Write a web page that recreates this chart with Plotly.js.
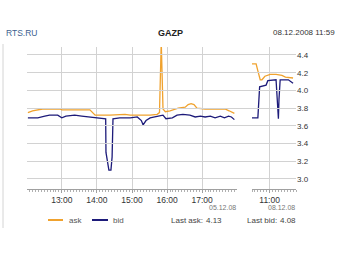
<!DOCTYPE html>
<html><head><meta charset="utf-8">
<script src="https://cdn.plot.ly/plotly-3.0.1.min.js"></script>
<style>html,body{margin:0;padding:0;background:#fff}#c{width:340px;height:255px}</style>
</head><body><div id="c"></div>
<script>
// Session 1: 05.12.08
var day1 = '2008-12-05';
var askTimes1 = ['12:02','12:10','12:27','12:57','13:00','13:22','13:48','13:57','14:05','14:22','14:48','14:57','15:14','15:31','15:43','15:47','15:50','15:53','15:57','16:05','16:19','16:31','16:36','16:41','16:46','16:51','17:05','17:22','17:39','17:46','17:55'];
var askValues1 = [3.75,3.77,3.79,3.79,3.78,3.78,3.78,3.72,3.72,3.72,3.73,3.72,3.72,3.72,3.73,3.75,4.55,3.79,3.76,3.77,3.80,3.81,3.84,3.85,3.84,3.80,3.79,3.79,3.79,3.77,3.74];
var bidTimes1 = ['12:02','12:19','12:31','12:39','12:53','13:00','13:07','13:22','13:34','13:45','13:58','14:12','14:15','14:15:30','14:19','14:20:30','14:24','14:26','14:27:30','14:39','14:57','15:09','15:16','15:19','15:24','15:31','15:45','15:53','15:58','16:09','16:17','16:27','16:39','16:48','16:57','17:05','17:14','17:22','17:31','17:38','17:45','17:50','17:55'];
var bidValues1 = [3.69,3.69,3.71,3.72,3.72,3.69,3.71,3.72,3.71,3.70,3.69,3.68,3.68,3.30,3.15,3.10,3.10,3.25,3.68,3.69,3.69,3.70,3.66,3.61,3.66,3.69,3.71,3.72,3.68,3.69,3.72,3.73,3.72,3.70,3.71,3.70,3.71,3.69,3.71,3.69,3.71,3.70,3.67];
// Session 2: 08.12.08
var day2 = '2008-12-08';
var askTimes2 = ['10:30','10:37','10:40','10:44','10:47','10:52','11:01','11:11','11:21','11:27','11:40'];
var askValues2 = [4.30,4.30,4.22,4.12,4.12,4.16,4.18,4.18,4.17,4.15,4.14];
var bidTimes2 = ['10:30','10:40','10:43','10:47','10:54','10:57','11:11','11:13','11:15','11:16','11:18','11:32','11:37','11:40'];
var bidValues2 = [3.69,3.69,4.04,4.05,4.06,4.11,4.12,3.90,3.68,3.90,4.12,4.12,4.10,4.08];
var yTicks = [3.0,3.2,3.4,3.6,3.8,4.0,4.2,4.4];
var seriesNames = ['ask','bid'];
var lastAsk = 4.13, lastBid = 4.08;
var titleLeft = 'RTS.RU', titleMid = 'GAZP', titleRight = '08.12.2008 11:59';

var ASK = '#f0a22e', BID = '#1d1b7a';
function ts(d, arr){ return arr.map(function(t){ return d + ' ' + t; }); }

var traces = [
  {x: [], y: [], xaxis:'x3', yaxis:'y', mode:'lines', showlegend:false, hoverinfo:'skip'},
  {x: ts(day1, askTimes1), y: askValues1, xaxis:'x', yaxis:'y', mode:'lines', line:{color:ASK, width:1.3}, showlegend:false, hoverinfo:'skip'},
  {x: ts(day1, bidTimes1), y: bidValues1, xaxis:'x', yaxis:'y', mode:'lines', line:{color:BID, width:1.3}, showlegend:false, hoverinfo:'skip'},
  {x: ts(day2, askTimes2), y: askValues2, xaxis:'x2', yaxis:'y', mode:'lines', line:{color:ASK, width:1.3}, showlegend:false, hoverinfo:'skip'},
  {x: ts(day2, bidTimes2), y: bidValues2, xaxis:'x2', yaxis:'y', mode:'lines', line:{color:BID, width:1.3}, showlegend:false, hoverinfo:'skip'}
];

var GRID = '#d2d2d2';
var F = 'Liberation Sans, Arial, sans-serif';
var xCommon = {
  type:'date', tickformat:'%H:%M', dtick:3600000, showgrid:true, gridcolor:GRID, gridwidth:1,
  showline:true, linecolor:'#a0a0a0', linewidth:1, ticks:'outside', ticklen:3, tickcolor:'#a0a0a0',
  tickfont:{family:F, size:8.5, color:'#333'}, zeroline:false, fixedrange:true,
  minor:{dtick:300000, ticks:'outside', ticklen:2, tickcolor:'#b0b0b0', showgrid:false}
};
var xa1 = Object.assign({}, xCommon, {domain:[0, 210/269], range:[day1+' 12:00:30', day1+' 17:59:30'], anchor:'y'});
var xa2 = Object.assign({}, xCommon, {domain:[225/269, 1], range:[day2+' 10:30', day2+' 11:45'], anchor:'y'});
xa2.minor = Object.assign({}, xCommon.minor);

function px(x){ return (x-27)/269; }
function py(y){ return (189-y)/142; }

var ann = function(text, x, y, xanchor, size, color, bold){
  return {text: bold ? '<b>'+text+'</b>' : text, xref:'paper', yref:'paper', x:px(x), y:py(y), xanchor:xanchor, yanchor:'middle', showarrow:false, font:{family:F, size:size, color:color}};
};

var layout = {
  width:340, height:255, margin:{l:27, r:44, t:47, b:66},
  paper_bgcolor:'#fff', plot_bgcolor:'rgba(0,0,0,0)', showlegend:false,
  xaxis: xa1, xaxis2: xa2,
  xaxis3: {domain:[0,1], range:[0,1], visible:false, showgrid:false, anchor:'y', fixedrange:true},
  yaxis: {range:[2.887, 4.49], tickvals:yTicks, ticktext:yTicks.map(function(v){return v.toFixed(1);}), side:'right', anchor:'x2',
          showgrid:true, gridcolor:GRID, gridwidth:1, showline:false, ticks:'', zeroline:false,
          tickfont:{family:F, size:8, color:'#333'}, fixedrange:true},
  annotations: [
    ann(titleLeft, 4, 33, 'left', 8.5, '#3d5f8f'),
    ann(titleMid, 170, 33, 'center', 9, '#222', true),
    ann(titleRight, 337, 33, 'right', 8, '#333'),
    ann('05.12.08', 238, 207, 'right', 7, '#777'),
    ann('08.12.08', 297, 207, 'right', 7, '#777'),
    ann(seriesNames[0], 67, 220, 'left', 8, '#555'),
    ann(seriesNames[1], 111, 220, 'left', 8, '#555'),
    ann('Last ask:', 169, 220, 'left', 8, '#444'),
    ann(lastAsk.toFixed(2), 224, 220, 'right', 8, '#444'),
    ann('Last bid:', 245, 220, 'left', 8, '#444'),
    ann(lastBid.toFixed(2), 298, 220, 'right', 8, '#444')
  ],
  shapes: [
    {type:'line', xref:'paper', yref:'paper', x0:px(48), x1:px(63), y0:py(220), y1:py(220), line:{color:ASK, width:2}},
    {type:'line', xref:'paper', yref:'paper', x0:px(92), x1:px(108), y0:py(220), y1:py(220), line:{color:BID, width:2}},
    {type:'line', xref:'paper', yref:'paper', x0:px(3), x1:px(3), y0:py(44), y1:py(228), line:{color:'#d4d4d4', width:1}}
  ]
};

Plotly.newPlot('c', traces, layout, {displayModeBar:false, staticPlot:true});
</script></body></html>
